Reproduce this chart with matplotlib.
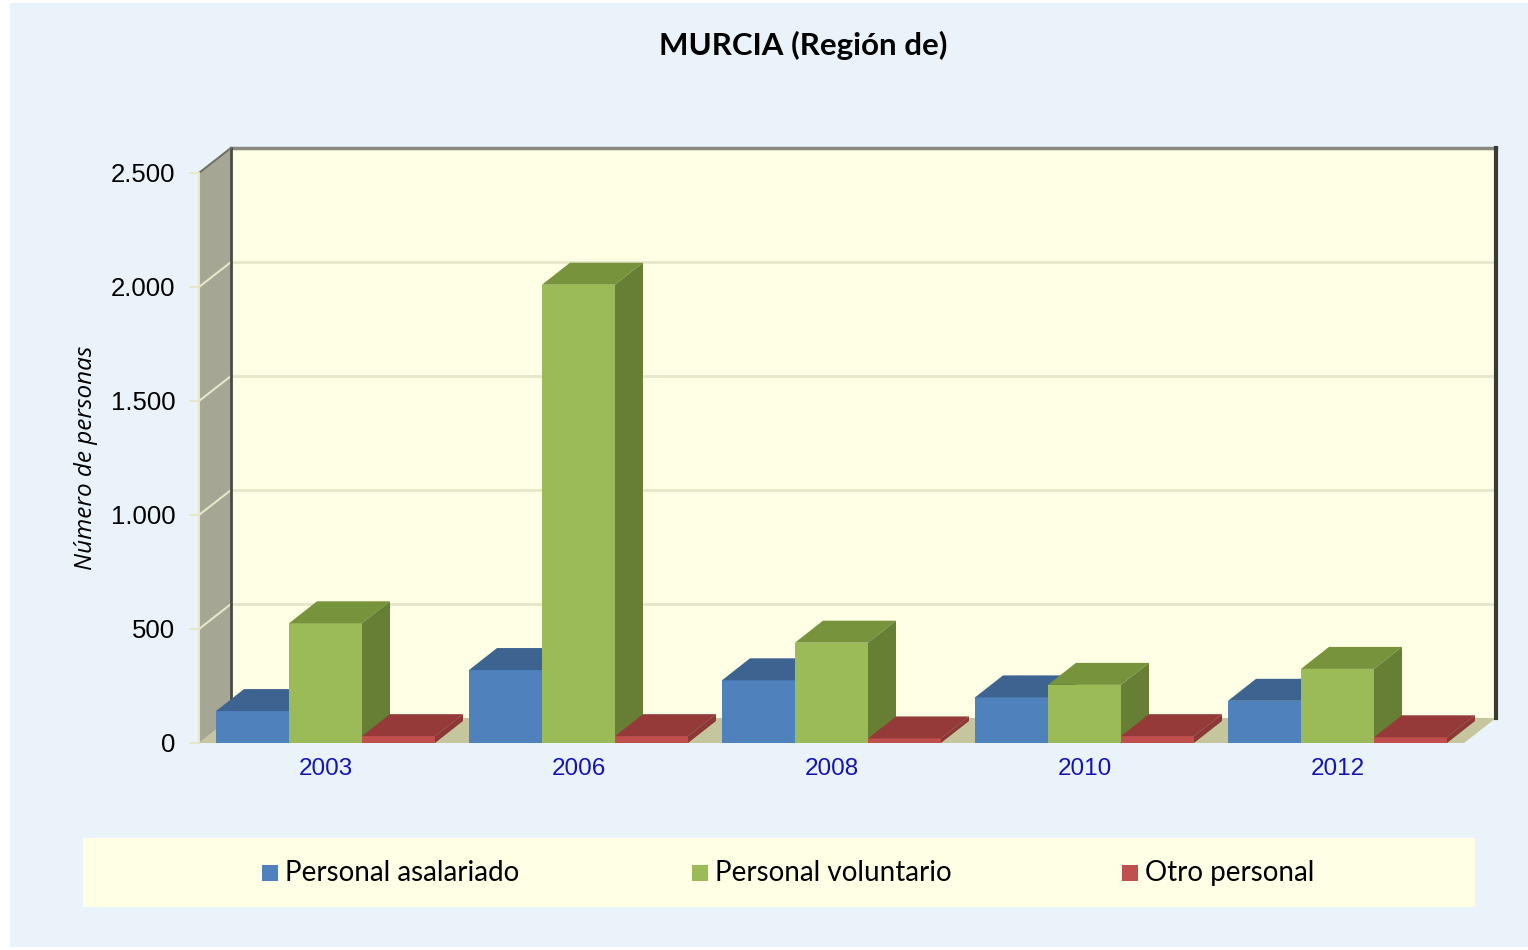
import matplotlib
matplotlib.use("Agg")
import matplotlib.pyplot as plt
from matplotlib.patches import Polygon, Rectangle

# ---------------- data ----------------
years = ['2003', '2006', '2008', '2010', '2012']
asalariado = [140, 320, 275, 200, 185]
voluntario = [525, 2010, 440, 255, 325]
otro = [30, 30, 20, 30, 25]
series_names = ['Personal asalariado', 'Personal voluntario', 'Otro personal']
yticks = [0, 500, 1000, 1500, 2000, 2500]
ytick_labels = ['0', '500', '1.000', '1.500', '2.000', '2.500']
title = 'MURCIA (Región de)'
ylabel = 'Número de personas'

# ---------------- style ----------------
W, H = 1528, 950
front_cols = ['#4F81BD', '#9BBB59', '#C0504D']
top_cols = ['#3D6491', '#77933C', '#953A38']
side_cols = ['#385D8A', '#667F35', '#8C3836']

fig = plt.figure(figsize=(W / 100, H / 100), dpi=100)
fig.patch.set_facecolor('white')
fig.patches.append(Rectangle((10 / W, 3 / H), (W - 10) / W, (H - 6) / H,
                             transform=fig.transFigure, facecolor='#EAF3FA',
                             edgecolor='none', zorder=-10))

ax = fig.add_axes([199 / W, (H - 743) / H, 1265 / W, 570 / H])
ax.set_facecolor('none')
x0, x1 = -0.5, len(years) - 0.5
ymax = 2500
ax.set_xlim(x0, x1)
ax.set_ylim(0, ymax)
for s in ax.spines.values():
    s.set_visible(False)

px_x = 1265 / (x1 - x0)
px_y = 570 / ymax
DX, DY = 32 / px_x, 25 / px_y      # wall depth
BDX, BDY = 28 / px_x, 22 / px_y    # bar depth

# walls
ax.add_patch(Polygon([(x0 + DX, DY), (x1 + DX, DY), (x1 + DX, ymax + DY), (x0 + DX, ymax + DY)],
                     closed=True, facecolor='#FFFFE5', edgecolor='none', zorder=0, clip_on=False))
ax.add_patch(Polygon([(x0, 0), (x0, ymax), (x0 + DX, ymax + DY), (x0 + DX, DY)],
                     closed=True, facecolor='#A6A695', edgecolor='none', zorder=0, clip_on=False))
ax.add_patch(Polygon([(x0, 0), (x1, 0), (x1 + DX, DY), (x0 + DX, DY)],
                     closed=True, facecolor='#C6C69E', edgecolor='none', zorder=0, clip_on=False))
# gridlines
for v in yticks[1:]:
    ax.plot([x0 + DX, x1 + DX], [v + DY, v + DY], color='#E6E6C8', lw=2, zorder=1, clip_on=False)
    ax.plot([x0, x0 + DX], [v, v + DY], color='#E6E6C8', lw=1.5, zorder=1, clip_on=False)
# wall edges
ax.plot([x0 + DX, x1 + DX], [ymax + DY, ymax + DY], color='#8A8A80', lw=2.5, zorder=1, clip_on=False)
ax.plot([x0 + DX, x0 + DX], [DY, ymax + DY], color='#4A4A44', lw=2, zorder=1, clip_on=False)
ax.plot([x1 + DX, x1 + DX], [DY, ymax + DY], color='#3A3A36', lw=3, zorder=1, clip_on=False)
ax.plot([x0, x0 + DX], [ymax, ymax + DY], color='#6E6E66', lw=1.5, zorder=1, clip_on=False)
ax.plot([x0, x0], [0, ymax], color='#E6E6C8', lw=1.5, zorder=1, clip_on=False)

# bars
bw = 73 / px_x
series = [asalariado, voluntario, otro]
z = 2
for i in range(len(years)):
    for k, vals in enumerate(series):
        xc = i + (k - 1) * bw
        v = vals[i]
        xl, xr = xc - bw / 2, xc + bw / 2
        ax.bar([xc], [v], width=bw, color=front_cols[k], edgecolor='none', zorder=z)
        ax.add_patch(Polygon([(xl, v), (xr, v), (xr + BDX, v + BDY), (xl + BDX, v + BDY)],
                             closed=True, facecolor=top_cols[k], edgecolor='none', zorder=z, clip_on=False))
        ax.add_patch(Polygon([(xr, 0), (xr, v), (xr + BDX, v + BDY), (xr + BDX, BDY)],
                             closed=True, facecolor=side_cols[k], edgecolor='none', zorder=z, clip_on=False))
        z += 1

# ticks
ax.set_yticks(yticks)
ax.set_yticklabels(ytick_labels, fontsize=18.5, family='Liberation Sans', color='black')
ax.tick_params(axis='y', length=7, width=1.5, color='#E6E6C8', pad=10)
ax.set_xticks(range(len(years)))
ax.set_xticklabels(years, fontsize=17.5, family='Liberation Sans', color='#1414B4')
ax.tick_params(axis='x', length=0, pad=11)

# texts
fig.text(803 / W, 1 - 45 / H, title, ha='center', va='center', fontsize=22.5,
         fontweight='bold', family='Lato', color='black')
fig.text(86 / W, 1 - 458 / H, ylabel, ha='center', va='center', rotation=90,
         fontsize=17.5, style='italic', family='Open Sans', color='black')

# legend
fig.patches.append(Rectangle((83 / W, 1 - 907 / H), (1475 - 83) / W, (907 - 838) / H,
                             transform=fig.transFigure, facecolor='#FFFFE5',
                             edgecolor='none', zorder=-5))
leg_x = [262, 692, 1122]
for k, name in enumerate(series_names):
    fig.patches.append(Rectangle((leg_x[k] / W, 1 - 881 / H), 16 / W, 16 / H,
                                 transform=fig.transFigure, facecolor=front_cols[k],
                                 edgecolor='none', zorder=-4))
    fig.text((leg_x[k] + 23) / W, 1 - 873 / H, name, ha='left', va='center',
             fontsize=20, family='Lato', color='black')

fig.savefig('out.png', dpi=100)
